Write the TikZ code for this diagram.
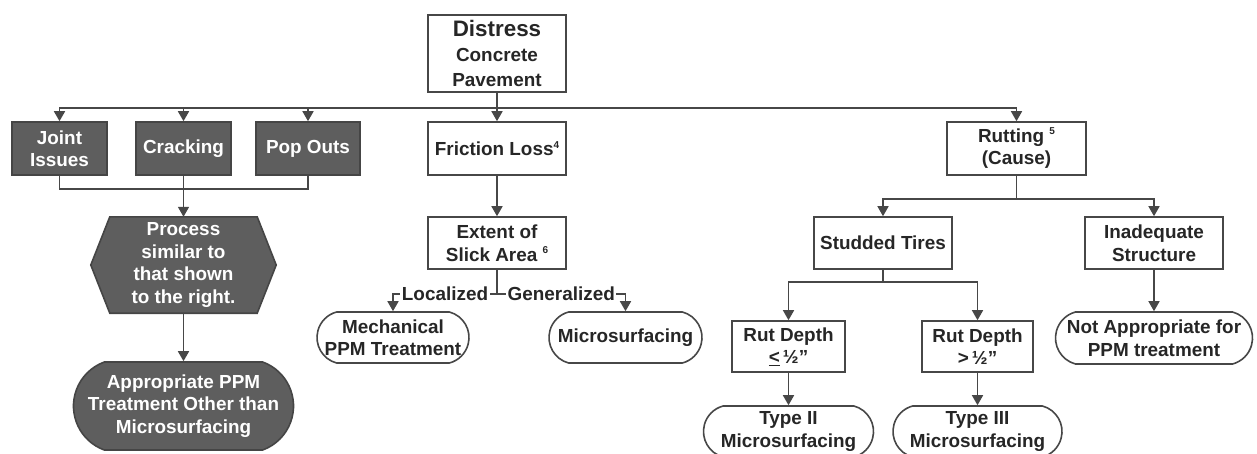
\documentclass[tikz,border=0pt]{standalone}
\usepackage{fontspec}
\setmainfont{Liberation Sans}
\usetikzlibrary{arrows.meta,shapes.misc,backgrounds}
\definecolor{linec}{HTML}{474747}
\definecolor{darkf}{HTML}{5E5E5E}
\definecolor{darkb}{HTML}{454545}
\definecolor{txt}{HTML}{262626}
\newcommand{\supnum}[1]{\raisebox{7.5pt}{\fontsize{10}{10}\selectfont #1}}
\begin{document}
\begin{tikzpicture}[x=1pt,y=-1pt,
  every node/.style={font=\fontsize{18.9}{22.5}\selectfont\bfseries, text=txt, align=center, inner sep=1pt},
  box/.style={draw=linec, line width=1.6pt, fill=white, minimum height=52pt},
  darkbox/.style={box, fill=darkf, draw=darkb, text=white},
  term/.style={rounded rectangle, rounded rectangle arc length=150, draw=linec, line width=1.6pt, fill=white, minimum height=51pt},
  conn/.style={draw=linec, line width=1.6pt},
  flow/.style={conn, -{Triangle[length=10pt,width=11pt]}},
  lbl/.style={fill=white, inner sep=1.5pt, text=txt}
]
\useasboundingbox (0,0) rectangle (1257,453);
\clip (0,0) rectangle (1257,453);

% nodes
\node[box, minimum width=138pt, minimum height=77pt] (distress) at (497,53.5)
  {{\fontsize{22.4}{25}\selectfont Distress}\\[2.5pt]Concrete\\[2.5pt]Pavement};
\node[darkbox, minimum width=95pt, minimum height=53pt] (joint) at (59.5,148.5) {Joint\\Issues};
\node[darkbox, minimum width=95pt, minimum height=53pt] (crack) at (183.5,148.5) {Cracking};
\node[darkbox, minimum width=104pt, minimum height=53pt] (pop) at (308,148.5) {Pop Outs};
\node[box, minimum width=138pt, minimum height=53pt] (friction) at (497,148.5) {Friction Loss\supnum{4}};
\node[box, minimum width=139pt, minimum height=53pt] (rutting) at (1016.5,148.5) {Rutting \supnum{5}\\(Cause)};
\node[box, minimum width=138pt] (extent) at (497,243) {Extent of\\Slick Area \supnum{6}};
\node[box, minimum width=138pt] (studded) at (883,243) {Studded Tires};
\node[box, minimum width=138pt] (inadequate) at (1154,243) {Inadequate\\Structure};
\node[minimum width=185pt, minimum height=96pt, text=white] (proc) at (183.5,265)
  {Process\\similar to\\that shown\\to the right.};
\begin{scope}[on background layer]
  \filldraw[fill=darkf, draw=darkb, line width=1.6pt]
    ([xshift=19pt]proc.north west) -- ([xshift=-19pt]proc.north east) -- (proc.east)
    -- ([xshift=-19pt]proc.south east) -- ([xshift=19pt]proc.south west) -- (proc.west) -- cycle;
\end{scope}
\node[term, fill=darkf, draw=darkb, text=white, minimum width=222pt, minimum height=88pt,
  rounded rectangle arc length=140] (appr) at (183.5,406)
  {Appropriate PPM\\Treatment Other than\\Microsurfacing};
\node[term, minimum width=154pt] (mech) at (393,337.5) {Mechanical\\PPM Treatment};
\node[term, minimum width=155pt] (micro) at (625.5,337.5) {Microsurfacing};
\node[box, minimum width=113pt, minimum height=51pt] (rut1) at (788.5,346.5) {Rut Depth\\\underline{<}\,½”};
\node[box, minimum width=111pt, minimum height=51pt] (rut2) at (977.5,346.5) {Rut Depth\\>\,½”};
\node[term, minimum width=172pt] (type2) at (788.5,431.5) {Type II\\Microsurfacing};
\node[term, minimum width=171pt] (type3) at (977.5,431.5) {Type III\\Microsurfacing};
\node[term, minimum width=199pt, minimum height=52pt] (notapp) at (1154,338) {Not Appropriate for\\PPM treatment};

% connectors
\coordinate (hb) at (distress.south |- 0,108);
\draw[flow] (distress.south) -- (friction.north);
\draw[flow] (hb) -| (joint.north);
\draw[flow] (hb) -| (crack.north);
\draw[flow] (hb) -| (pop.north);
\draw[flow] (hb) -| (rutting.north);

\coordinate (jb) at (crack.south |- 0,189);
\draw[conn] (joint.south) |- (jb) -| (pop.south);
\draw[conn] (crack.south) -- (jb);
\draw[flow] (jb) -- (proc.north);
\draw[flow] (proc.south) -- (appr.north);

\draw[flow] (friction.south) -- (extent.north);
\coordinate (ej) at (extent.south |- 0,294);
\draw[conn] (extent.south) -- (ej);
\draw[flow] (ej) -- node[lbl]{Localized} (ej -| mech.north) -- (mech.north);
\draw[flow] (ej) -- node[lbl]{Generalized} (ej -| micro.north) -- (micro.north);

\coordinate (rj) at (rutting.south |- 0,199);
\draw[conn] (rutting.south) -- (rj);
\draw[flow] (rj) -| (studded.north);
\draw[flow] (rj) -| (inadequate.north);

\coordinate (sj) at (studded.south |- 0,282);
\draw[conn] (studded.south) -- (sj);
\draw[flow] (sj) -| (rut1.north);
\draw[flow] (sj) -| (rut2.north);
\draw[flow] (rut1.south) -- (type2.north);
\draw[flow] (rut2.south) -- (type3.north);
\draw[flow] (inadequate.south) -- (notapp.north);
\end{tikzpicture}
\end{document}
